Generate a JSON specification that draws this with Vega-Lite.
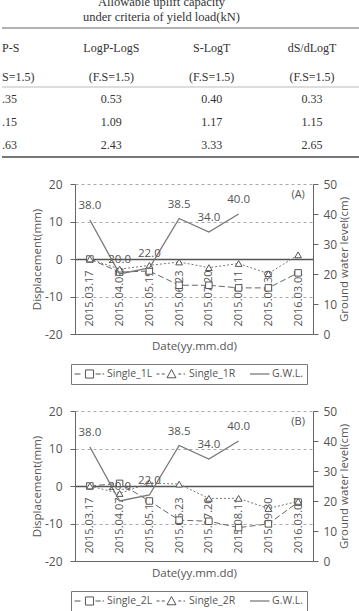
{
  "$schema": "https://vega.github.io/schema/vega-lite/v6.json",
  "padding": 0,
  "background": "white",
  "spacing": 20,
  "config": {
    "font": "Open Sans",
    "view": {"stroke": null},
    "axis": {
      "labelFont": "Open Sans", "labelFontSize": 12, "labelColor": "#555",
      "titleFont": "Open Sans", "titleFontSize": 11.5, "titleFontWeight": "normal", "titleColor": "#555",
      "domainColor": "#666", "tickColor": "#666"
    },
    "text": {"font": "Open Sans"}
  },
  "datasets": {
    "tbl": [
      {"part": "title", "row": "t1", "col": 1.5, "text": "Allowable uplift capacity"},
      {"part": "title", "row": "t2", "col": 1.5, "text": "under criteria of yield load(kN)"},
      {"part": "head", "row": "head", "col": 0, "text": "P-S"},
      {"part": "head", "row": "head", "col": 1, "text": "LogP-LogS"},
      {"part": "head", "row": "head", "col": 2, "text": "S-LogT"},
      {"part": "head", "row": "head", "col": 3, "text": "dS/dLogT"},
      {"part": "head", "row": "fs", "col": 0, "text": "S=1.5)"},
      {"part": "head", "row": "fs", "col": 1, "text": "(F.S=1.5)"},
      {"part": "head", "row": "fs", "col": 2, "text": "(F.S=1.5)"},
      {"part": "head", "row": "fs", "col": 3, "text": "(F.S=1.5)"},
      {"part": "body", "row": "v1", "col": 0, "text": ".35"},
      {"part": "body", "row": "v1", "col": 1, "text": "0.53"},
      {"part": "body", "row": "v1", "col": 2, "text": "0.40"},
      {"part": "body", "row": "v1", "col": 3, "text": "0.33"},
      {"part": "body", "row": "v2", "col": 0, "text": ".15"},
      {"part": "body", "row": "v2", "col": 1, "text": "1.09"},
      {"part": "body", "row": "v2", "col": 2, "text": "1.17"},
      {"part": "body", "row": "v2", "col": 3, "text": "1.15"},
      {"part": "body", "row": "v3", "col": 0, "text": ".63"},
      {"part": "body", "row": "v3", "col": 1, "text": "2.43"},
      {"part": "body", "row": "v3", "col": 2, "text": "3.33"},
      {"part": "body", "row": "v3", "col": 3, "text": "2.65"}
    ],
    "disp": [
      {"panel": "A", "side": "L", "series": "Single_1L", "date": "2015.03.17", "value": 0},
      {"panel": "A", "side": "L", "series": "Single_1L", "date": "2015.04.07", "value": -3.5},
      {"panel": "A", "side": "L", "series": "Single_1L", "date": "2015.05.19", "value": -3.2},
      {"panel": "A", "side": "L", "series": "Single_1L", "date": "2015.06.23", "value": -7.0},
      {"panel": "A", "side": "L", "series": "Single_1L", "date": "2015.07.20", "value": -7.0},
      {"panel": "A", "side": "L", "series": "Single_1L", "date": "2015.08.11", "value": -7.7},
      {"panel": "A", "side": "L", "series": "Single_1L", "date": "2015.09.30", "value": -7.7},
      {"panel": "A", "side": "L", "series": "Single_1L", "date": "2016.03.07", "value": -3.7},
      {"panel": "A", "side": "R", "series": "Single_1R", "date": "2015.03.17", "value": 0},
      {"panel": "A", "side": "R", "series": "Single_1R", "date": "2015.04.07", "value": -2.7},
      {"panel": "A", "side": "R", "series": "Single_1R", "date": "2015.05.19", "value": -1.7},
      {"panel": "A", "side": "R", "series": "Single_1R", "date": "2015.06.23", "value": -0.8},
      {"panel": "A", "side": "R", "series": "Single_1R", "date": "2015.07.20", "value": -2.3},
      {"panel": "A", "side": "R", "series": "Single_1R", "date": "2015.08.11", "value": -1.2},
      {"panel": "A", "side": "R", "series": "Single_1R", "date": "2015.09.30", "value": -3.9},
      {"panel": "A", "side": "R", "series": "Single_1R", "date": "2016.03.07", "value": 1.1},
      {"panel": "B", "side": "L", "series": "Single_2L", "date": "2015.03.17", "value": 0},
      {"panel": "B", "side": "L", "series": "Single_2L", "date": "2015.04.07", "value": 0.7},
      {"panel": "B", "side": "L", "series": "Single_2L", "date": "2015.05.19", "value": -4.0},
      {"panel": "B", "side": "L", "series": "Single_2L", "date": "2015.06.23", "value": -9.1},
      {"panel": "B", "side": "L", "series": "Single_2L", "date": "2015.07.20", "value": -9.4},
      {"panel": "B", "side": "L", "series": "Single_2L", "date": "2015.08.11", "value": -11.1},
      {"panel": "B", "side": "L", "series": "Single_2L", "date": "2015.09.30", "value": -10.1},
      {"panel": "B", "side": "L", "series": "Single_2L", "date": "2016.03.07", "value": -4.3},
      {"panel": "B", "side": "R", "series": "Single_2R", "date": "2015.03.17", "value": 0},
      {"panel": "B", "side": "R", "series": "Single_2R", "date": "2015.04.07", "value": -2.0},
      {"panel": "B", "side": "R", "series": "Single_2R", "date": "2015.05.19", "value": 0.8},
      {"panel": "B", "side": "R", "series": "Single_2R", "date": "2015.06.23", "value": 0.5},
      {"panel": "B", "side": "R", "series": "Single_2R", "date": "2015.07.20", "value": -3.3},
      {"panel": "B", "side": "R", "series": "Single_2R", "date": "2015.08.11", "value": -3.3},
      {"panel": "B", "side": "R", "series": "Single_2R", "date": "2015.09.30", "value": -6.0},
      {"panel": "B", "side": "R", "series": "Single_2R", "date": "2016.03.07", "value": -4.1}
    ],
    "gwl": [
      {"panel": "A", "date": "2015.03.17", "gwl": 38.0},
      {"panel": "A", "date": "2015.04.07", "gwl": 20.0},
      {"panel": "A", "date": "2015.05.19", "gwl": 22.0},
      {"panel": "A", "date": "2015.06.23", "gwl": 38.5},
      {"panel": "A", "date": "2015.07.20", "gwl": 34.0},
      {"panel": "A", "date": "2015.08.11", "gwl": 40.0},
      {"panel": "B", "date": "2015.03.17", "gwl": 38.0},
      {"panel": "B", "date": "2015.04.07", "gwl": 20.0},
      {"panel": "B", "date": "2015.05.19", "gwl": 22.0},
      {"panel": "B", "date": "2015.06.23", "gwl": 38.5},
      {"panel": "B", "date": "2015.07.20", "gwl": 34.0},
      {"panel": "B", "date": "2015.08.11", "gwl": 40.0}
    ]
  },
  "vconcat": [
    {
      "width": 286,
      "height": 157,
      "data": {"name": "tbl"},
      "layer": [
        {
          "transform": [{"filter": "datum.part === 'title'"}],
          "mark": {"type": "text", "font": "Liberation Serif", "fontSize": 12.5, "color": "#333", "clip": true},
          "encoding": {
            "x": {"field": "col", "type": "quantitative", "scale": {"domain": [0, 3], "range": [-64, 237]}, "axis": null},
            "y": {"field": "row", "type": "nominal", "scale": {"type": "band", "domain": ["t1", "t2"], "range": [-5.5, 24.5], "paddingInner": 0, "paddingOuter": 0}, "axis": null},
            "text": {"field": "text"}
          }
        },
        {
          "transform": [{"filter": "datum.part === 'head' && datum.col > 0"}],
          "mark": {"type": "text", "font": "Liberation Serif", "fontSize": 12, "color": "#333", "dy": 5},
          "encoding": {
            "x": {"field": "col", "type": "quantitative", "scale": {"domain": [0, 3], "range": [-64, 237]}, "axis": null},
            "y": {"field": "row", "type": "nominal", "scale": {"type": "band", "domain": ["head", "fs"], "range": [28, 87], "paddingInner": 0, "paddingOuter": 0}, "axis": null},
            "text": {"field": "text"}
          }
        },
        {
          "transform": [{"filter": "datum.part === 'head' && datum.col === 0"}],
          "mark": {"type": "text", "font": "Liberation Serif", "fontSize": 12, "color": "#333", "dy": 5, "align": "left", "dx": -9},
          "encoding": {
            "x": {"field": "col", "type": "quantitative", "scale": {"domain": [0, 3], "range": [-64, 237]}, "axis": null},
            "y": {"field": "row", "type": "nominal", "scale": {"type": "band", "domain": ["head", "fs"], "range": [28, 87], "paddingInner": 0, "paddingOuter": 0}, "axis": null},
            "text": {"field": "text"}
          }
        },
        {
          "transform": [{"filter": "datum.part === 'body' && datum.col > 0"}],
          "mark": {"type": "text", "font": "Liberation Serif", "fontSize": 12, "color": "#333"},
          "encoding": {
            "x": {"field": "col", "type": "quantitative", "scale": {"domain": [0, 3], "range": [-64, 237]}, "axis": null},
            "y": {"field": "row", "type": "nominal", "scale": {"type": "band", "domain": ["v1", "v2", "v3"], "range": [87, 157], "paddingInner": 0, "paddingOuter": 0}, "axis": null},
            "text": {"field": "text"}
          }
        },
        {
          "transform": [{"filter": "datum.part === 'body' && datum.col === 0"}],
          "mark": {"type": "text", "font": "Liberation Serif", "fontSize": 12, "color": "#333", "align": "left", "dx": -9},
          "encoding": {
            "x": {"field": "col", "type": "quantitative", "scale": {"domain": [0, 3], "range": [-64, 237]}, "axis": null},
            "y": {"field": "row", "type": "nominal", "scale": {"type": "band", "domain": ["v1", "v2", "v3"], "range": [87, 157], "paddingInner": 0, "paddingOuter": 0}, "axis": null},
            "text": {"field": "text"}
          }
        },
        {
          "transform": [{"filter": "datum.row === 'head' && datum.col === 1"}],
          "mark": {"type": "rule", "color": "#999", "strokeWidth": 1.5},
          "encoding": {
            "x": {"datum": -0.09, "type": "quantitative", "scale": {"domain": [0, 3], "range": [-64, 237]}, "axis": null},
            "x2": {"datum": 3.49},
            "y": {"field": "row", "type": "nominal", "bandPosition": 0, "scale": {"type": "band", "domain": ["head", "fs"], "range": [28, 87], "paddingInner": 0, "paddingOuter": 0}, "axis": null}
          }
        },
        {
          "transform": [{"filter": "datum.row === 'v1' && datum.col === 1"}],
          "mark": {"type": "rule", "color": "#bbb", "strokeWidth": 1},
          "encoding": {
            "x": {"datum": -0.09, "type": "quantitative", "scale": {"domain": [0, 3], "range": [-64, 237]}, "axis": null},
            "x2": {"datum": 3.49},
            "y": {"field": "row", "type": "nominal", "bandPosition": 0, "scale": {"type": "band", "domain": ["v1", "v2", "v3"], "range": [87, 157], "paddingInner": 0, "paddingOuter": 0}, "axis": null}
          }
        },
        {
          "transform": [{"filter": "datum.row === 'v3' && datum.col === 1"}],
          "mark": {"type": "rule", "color": "#777", "strokeWidth": 2},
          "encoding": {
            "x": {"datum": -0.09, "type": "quantitative", "scale": {"domain": [0, 3], "range": [-64, 237]}, "axis": null},
            "x2": {"datum": 3.49},
            "y": {"field": "row", "type": "nominal", "bandPosition": 1, "scale": {"type": "band", "domain": ["v1", "v2", "v3"], "range": [87, 157], "paddingInner": 0, "paddingOuter": 0}, "axis": null}
          }
        }
      ],
      "resolve": {"scale": {"y": "independent"}}
    },
    {
      "width": 238,
      "height": 150,
      "encoding": {
        "x": {
          "field": "date", "type": "ordinal",
          "scale": {"type": "point", "padding": 0.5, "domain": ["2015.03.17", "2015.04.07", "2015.05.19", "2015.06.23", "2015.07.20", "2015.08.11", "2015.09.30", "2016.03.07"]},
          "axis": {"title": "Date(yy.mm.dd)", "labelAngle": -90, "labelAlign": "left", "labelBaseline": "middle", "labelPadding": -8, "labelFontSize": 11, "ticks": false, "labelOverlap": false, "grid": false, "titlePadding": 6}
        }
      },
      "layer": [
        {
          "data": {"name": "disp"},
          "transform": [{"filter": "datum.panel === 'A'"}],
          "layer": [
            {
              "transform": [{"filter": "datum.side === 'L'"}],
              "mark": {"type": "line", "color": "#666", "strokeWidth": 1, "strokeDash": [6, 3]},
              "encoding": {
                "y": {
                  "field": "value", "type": "quantitative",
                  "scale": {"domain": [-20, 20], "nice": false, "zero": false},
                  "axis": {
                    "title": "Displacement(mm)", "values": [-20, -10, 0, 10, 20], "tickCount": 10, "labelExpr": "'' + datum.value", "labelOverlap": false,
                    "grid": true,
                    "gridDash": {"condition": {"test": "datum.value === 0", "value": []}, "value": [3, 3]},
                    "gridColor": {"condition": {"test": "datum.value === 0", "value": "#555"}, "value": "#aaa"},
                    "gridWidth": {"condition": {"test": "datum.value === 0", "value": 1.3}, "value": 1},
                    "tickSize": 5, "labelPadding": 8, "titlePadding": 2
                  }
                }
              }
            },
            {
              "transform": [{"filter": "datum.side === 'R'"}],
              "mark": {"type": "line", "color": "#777", "strokeWidth": 1, "strokeDash": [2, 2]},
              "encoding": {"y": {"field": "value", "type": "quantitative"}}
            },
            {
              "transform": [{"filter": "datum.side === 'L'"}],
              "mark": {"type": "point", "shape": "square", "size": 42, "filled": true, "fill": "white", "stroke": "#555", "strokeWidth": 1, "opacity": 1},
              "encoding": {"y": {"field": "value", "type": "quantitative"}}
            },
            {
              "transform": [{"filter": "datum.side === 'R'"}],
              "mark": {"type": "point", "shape": "triangle-up", "size": 45, "filled": true, "fill": "white", "stroke": "#555", "strokeWidth": 1, "opacity": 1},
              "encoding": {"y": {"field": "value", "type": "quantitative"}}
            },
            {
              "transform": [{"filter": "false"}],
              "mark": {"type": "point", "size": 900, "color": "#555", "filled": false, "opacity": 1},
              "encoding": {
                "shape": {
                  "field": "series", "type": "nominal",
                  "scale": {
                    "domain": ["Single_1L", "Single_1R", "G.W.L."],
                    "range": [
                      "M-1,0H-0.6M-0.27,-0.27H0.27V0.27H-0.27ZM0.4,0H0.75M0.87,0H0.97",
                      "M-1,0H-0.8M-0.65,0H-0.45M-0.3,0.25L0,-0.3L0.3,0.25ZM0.45,0H0.65M0.8,0H0.9",
                      "M-0.3,0H1"
                    ]
                  },
                  "legend": {
                    "title": null, "orient": "none", "legendX": -4, "legendY": 180, "direction": "horizontal", "columns": 3,
                    "symbolSize": 900, "symbolStrokeColor": "#555", "symbolFillColor": "transparent", "symbolStrokeWidth": 1, "symbolOpacity": 1,
                    "clipHeight": 14, "labelFont": "Open Sans", "labelFontSize": 10.5, "labelColor": "#555", "labelOffset": 2,
                    "columnPadding": 3, "strokeColor": "#777", "padding": 3
                  }
                }
              }
            },
            {
              "data": {"values": [{"tag": "(A)"}]},
              "mark": {"type": "text", "fontSize": 11, "color": "#555"},
              "encoding": {
                "x": {"datum": "2016.03.07", "type": "ordinal"},
                "y": {"datum": 17, "type": "quantitative"},
                "text": {"field": "tag"}
              }
            }
          ]
        },
        {
          "data": {"name": "gwl"},
          "transform": [{"filter": "datum.panel === 'A'"}],
          "layer": [
            {
              "mark": {"type": "line", "color": "#777", "strokeWidth": 1.3},
              "encoding": {
                "y": {
                  "field": "gwl", "type": "quantitative",
                  "scale": {"domain": [0, 50], "nice": false},
                  "axis": {"orient": "right", "title": "Ground water level(cm)", "titleAngle": 270, "titleBaseline": "top", "values": [0, 10, 20, 30, 40, 50], "tickCount": 10, "labelOverlap": false, "grid": false, "tickSize": 5, "labelPadding": 5, "titlePadding": 2}
                }
              }
            },
            {
              "mark": {"type": "text", "dy": -14, "fontSize": 11.5, "color": "#555"},
              "encoding": {
                "y": {"field": "gwl", "type": "quantitative"},
                "text": {"field": "gwl", "type": "quantitative", "format": ".1f"}
              }
            }
          ]
        }
      ],
      "resolve": {"scale": {"y": "independent"}}
    },
    {
      "width": 238,
      "height": 150,
      "encoding": {
        "x": {
          "field": "date", "type": "ordinal",
          "scale": {"type": "point", "padding": 0.5, "domain": ["2015.03.17", "2015.04.07", "2015.05.19", "2015.06.23", "2015.07.20", "2015.08.11", "2015.09.30", "2016.03.07"]},
          "axis": {"title": "Date(yy.mm.dd)", "labelAngle": -90, "labelAlign": "left", "labelBaseline": "middle", "labelPadding": -8, "labelFontSize": 11, "ticks": false, "labelOverlap": false, "grid": false, "titlePadding": 6}
        }
      },
      "layer": [
        {
          "data": {"name": "disp"},
          "transform": [{"filter": "datum.panel === 'B'"}],
          "layer": [
            {
              "transform": [{"filter": "datum.side === 'L'"}],
              "mark": {"type": "line", "color": "#666", "strokeWidth": 1, "strokeDash": [6, 3]},
              "encoding": {
                "y": {
                  "field": "value", "type": "quantitative",
                  "scale": {"domain": [-20, 20], "nice": false, "zero": false},
                  "axis": {
                    "title": "Displacement(mm)", "values": [-20, -10, 0, 10, 20], "tickCount": 10, "labelExpr": "'' + datum.value", "labelOverlap": false,
                    "grid": true,
                    "gridDash": {"condition": {"test": "datum.value === 0", "value": []}, "value": [3, 3]},
                    "gridColor": {"condition": {"test": "datum.value === 0", "value": "#555"}, "value": "#aaa"},
                    "gridWidth": {"condition": {"test": "datum.value === 0", "value": 1.3}, "value": 1},
                    "tickSize": 5, "labelPadding": 8, "titlePadding": 2
                  }
                }
              }
            },
            {
              "transform": [{"filter": "datum.side === 'R'"}],
              "mark": {"type": "line", "color": "#777", "strokeWidth": 1, "strokeDash": [2, 2]},
              "encoding": {"y": {"field": "value", "type": "quantitative"}}
            },
            {
              "transform": [{"filter": "datum.side === 'L'"}],
              "mark": {"type": "point", "shape": "square", "size": 42, "filled": true, "fill": "white", "stroke": "#555", "strokeWidth": 1, "opacity": 1},
              "encoding": {"y": {"field": "value", "type": "quantitative"}}
            },
            {
              "transform": [{"filter": "datum.side === 'R'"}],
              "mark": {"type": "point", "shape": "triangle-up", "size": 45, "filled": true, "fill": "white", "stroke": "#555", "strokeWidth": 1, "opacity": 1},
              "encoding": {"y": {"field": "value", "type": "quantitative"}}
            },
            {
              "transform": [{"filter": "false"}],
              "mark": {"type": "point", "size": 900, "color": "#555", "filled": false, "opacity": 1},
              "encoding": {
                "shape": {
                  "field": "series", "type": "nominal",
                  "scale": {
                    "domain": ["Single_2L", "Single_2R", "G.W.L."],
                    "range": [
                      "M-1,0H-0.6M-0.27,-0.27H0.27V0.27H-0.27ZM0.4,0H0.75M0.87,0H0.97",
                      "M-1,0H-0.8M-0.65,0H-0.45M-0.3,0.25L0,-0.3L0.3,0.25ZM0.45,0H0.65M0.8,0H0.9",
                      "M-0.3,0H1"
                    ]
                  },
                  "legend": {
                    "title": null, "orient": "none", "legendX": -4, "legendY": 180, "direction": "horizontal", "columns": 3,
                    "symbolSize": 900, "symbolStrokeColor": "#555", "symbolFillColor": "transparent", "symbolStrokeWidth": 1, "symbolOpacity": 1,
                    "clipHeight": 14, "labelFont": "Open Sans", "labelFontSize": 10.5, "labelColor": "#555", "labelOffset": 2,
                    "columnPadding": 3, "strokeColor": "#777", "padding": 3
                  }
                }
              }
            },
            {
              "data": {"values": [{"tag": "(B)"}]},
              "mark": {"type": "text", "fontSize": 11, "color": "#555"},
              "encoding": {
                "x": {"datum": "2016.03.07", "type": "ordinal"},
                "y": {"datum": 17, "type": "quantitative"},
                "text": {"field": "tag"}
              }
            }
          ]
        },
        {
          "data": {"name": "gwl"},
          "transform": [{"filter": "datum.panel === 'B'"}],
          "layer": [
            {
              "mark": {"type": "line", "color": "#777", "strokeWidth": 1.3},
              "encoding": {
                "y": {
                  "field": "gwl", "type": "quantitative",
                  "scale": {"domain": [0, 50], "nice": false},
                  "axis": {"orient": "right", "title": "Ground water level(cm)", "titleAngle": 270, "titleBaseline": "top", "values": [0, 10, 20, 30, 40, 50], "tickCount": 10, "labelOverlap": false, "grid": false, "tickSize": 5, "labelPadding": 5, "titlePadding": 2}
                }
              }
            },
            {
              "mark": {"type": "text", "dy": -14, "fontSize": 11.5, "color": "#555"},
              "encoding": {
                "y": {"field": "gwl", "type": "quantitative"},
                "text": {"field": "gwl", "type": "quantitative", "format": ".1f"}
              }
            }
          ]
        }
      ],
      "resolve": {"scale": {"y": "independent"}}
    }
  ],
  "resolve": {
    "scale": {"x": "independent", "y": "independent", "shape": "independent"},
    "legend": {"shape": "independent"}
  }
}
